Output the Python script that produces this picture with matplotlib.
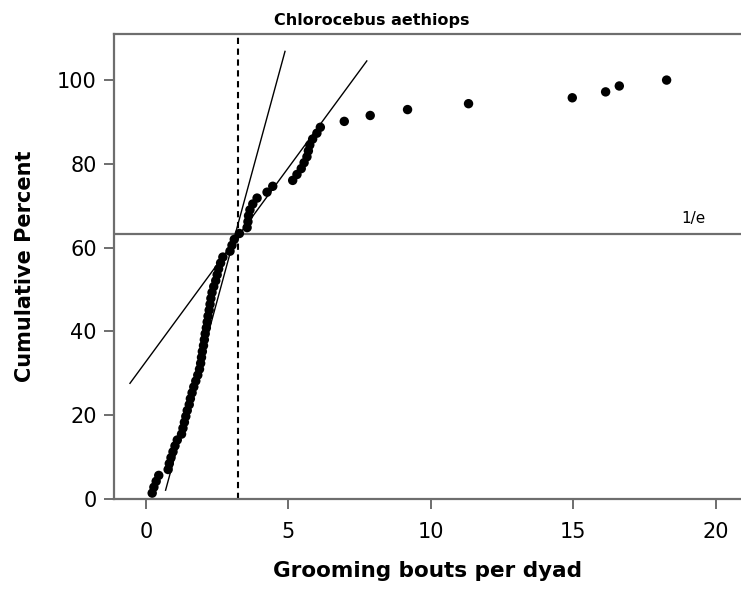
import numpy as np
import matplotlib
matplotlib.use("Agg")
import matplotlib.pyplot as plt

# Grooming bouts per dyad, sorted ascending (one value per dyad)
bouts = [
    0.22, 0.28, 0.36, 0.45, 0.78, 0.82, 0.88, 0.95, 1.02, 1.10,
    1.25, 1.30, 1.35, 1.40, 1.45, 1.52, 1.56, 1.62, 1.68, 1.75,
    1.82, 1.88, 1.92, 1.95, 1.98, 2.02, 2.05, 2.08, 2.12, 2.15,
    2.18, 2.22, 2.25, 2.28, 2.32, 2.38, 2.45, 2.50, 2.55, 2.62,
    2.70, 2.95, 3.02, 3.10, 3.28, 3.55, 3.58, 3.60, 3.65, 3.75,
    3.90, 4.25, 4.45, 5.15, 5.30, 5.45, 5.55, 5.65, 5.70, 5.75,
    5.85, 6.00, 6.12, 6.96, 7.87, 9.18, 11.32, 14.96, 16.13, 16.61,
    18.27,
]

# Two fitted reference lines: (slope, intercept, x start, x end)
steep_fit = (25.0, -15.15, 0.69, 4.88)
shallow_fit = (9.26, 32.8, -0.56, 7.75)

inv_e_level = 63.2      # 1 - 1/e, in percent
inv_e_x = 3.23          # bouts per dyad where the curve crosses 1/e
inv_e_label = "1/e"

title = "Chlorocebus aethiops"
x_label = "Grooming bouts per dyad"
y_label = "Cumulative Percent"
x_ticks = [0, 5, 10, 15, 20]
y_ticks = [0, 20, 40, 60, 80, 100]

x = np.asarray(bouts)
cum_pct = np.arange(1, len(x) + 1) / len(x) * 100

fig = plt.figure(figsize=(7.41, 5.90), dpi=100)
ax = fig.add_axes([114 / 741, 1 - 499 / 590, 1 - 114 / 741, (499 - 34) / 590])

spine_col = "#6e6e6e"
ax.axhline(inv_e_level, color=spine_col, lw=1.6, zorder=1)
ax.axvline(inv_e_x, color="black", lw=1.5, ls=(0, (3, 2.2)), zorder=1)

for slope, icpt, x0, x1 in (steep_fit, shallow_fit):
    xs = np.array([x0, x1])
    ax.plot(xs, slope * xs + icpt, color="black", lw=1.0, zorder=2)

ax.scatter(x, cum_pct, s=46, color="black", edgecolors="none", zorder=3)

ax.text(19.2, inv_e_level + 2.0, inv_e_label, fontsize=11, ha="center",
        va="bottom", family="DejaVu Sans")

ax.set_xlim(-1.12, 20.88)
ax.set_ylim(0, 111)
ax.set_xticks(x_ticks)
ax.set_yticks(y_ticks)

for side in ("left", "bottom", "top"):
    ax.spines[side].set_color(spine_col)
    ax.spines[side].set_linewidth(1.6)
ax.spines["right"].set_visible(False)

ax.tick_params(axis="both", direction="out", length=7.5, width=1.4,
               color=spine_col, labelsize=15, pad=5)
ax.tick_params(axis="x", pad=9)

ax.set_xlabel(x_label, fontsize=15.5, fontweight="bold", labelpad=14)
ax.set_ylabel(y_label, fontsize=15, fontweight="bold", labelpad=16)

fig.text(372 / 741, 1 - 20 / 590, title, fontsize=11.5, fontweight="bold",
         ha="center", va="center")

fig.savefig("out.png", dpi=100)
